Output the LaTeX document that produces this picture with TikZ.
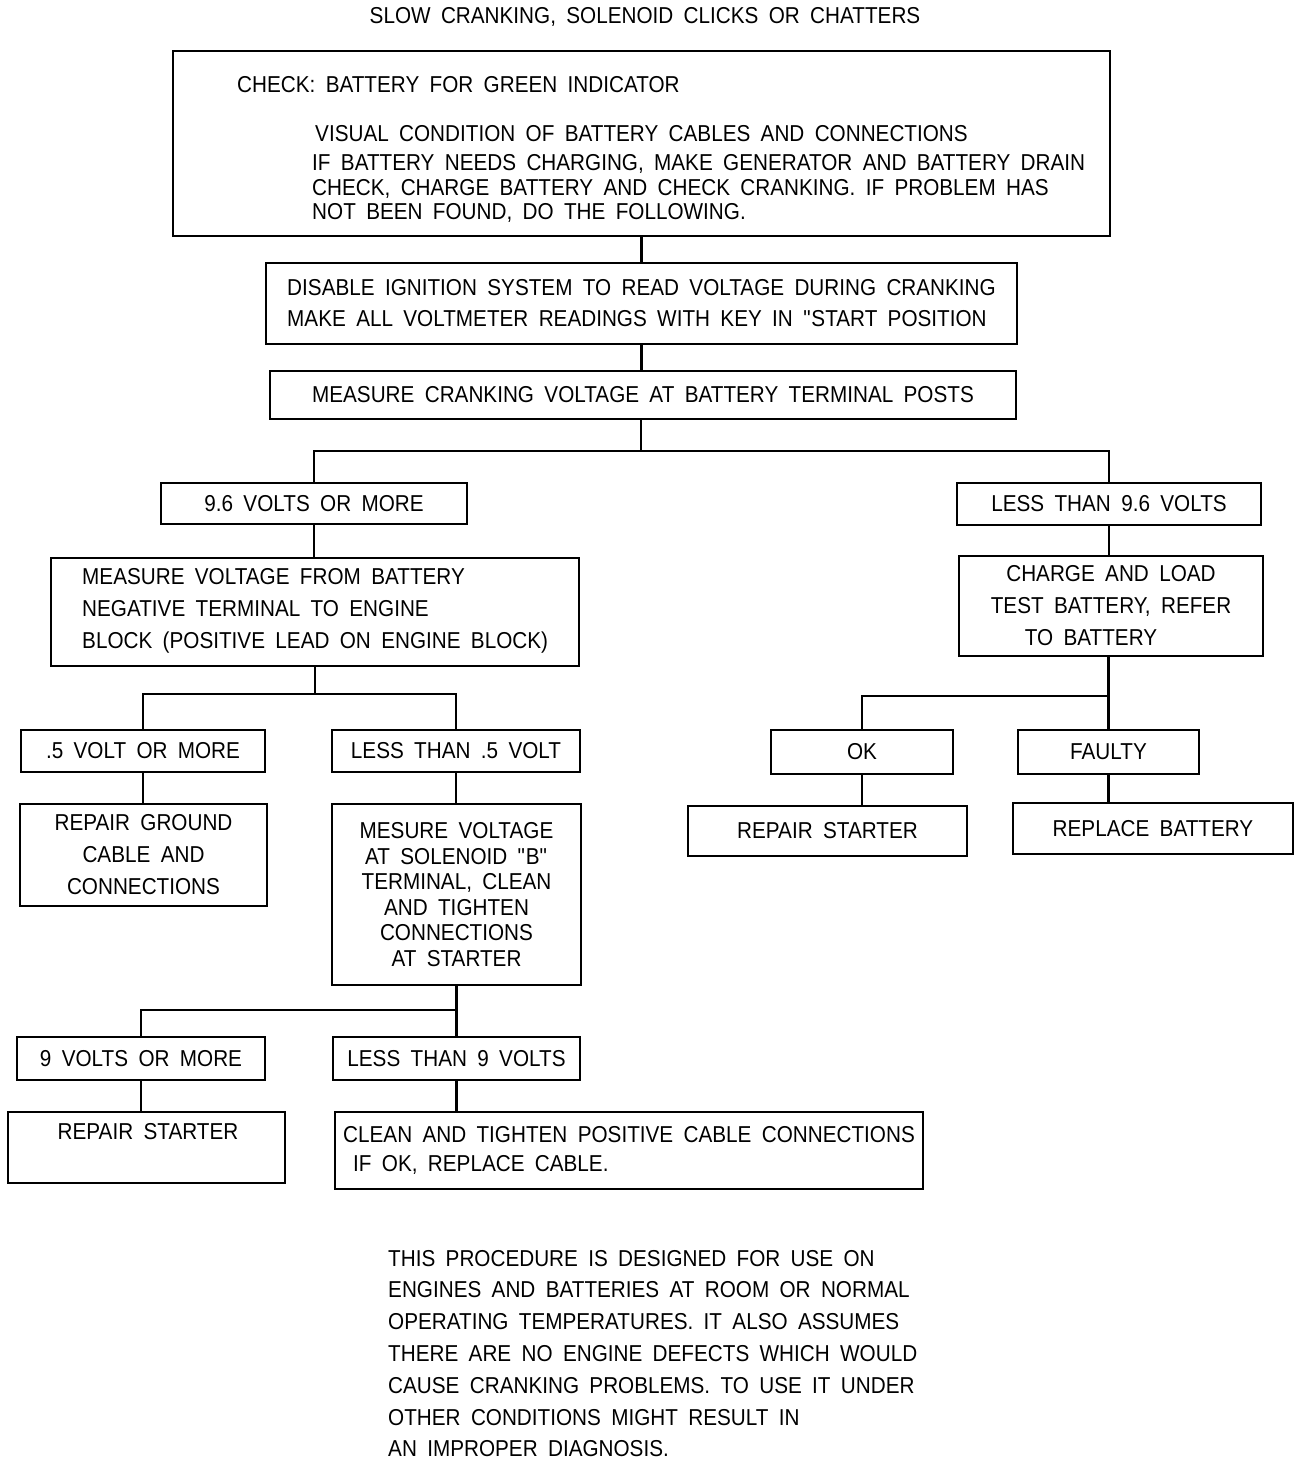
\documentclass[tikz,border=0pt]{standalone}
\usepackage{fontspec}
\setmainfont[FakeStretch=0.9,WordSpace=1.8]{Liberation Sans}

\begin{document}
\begin{tikzpicture}[x=1pt, y=-1pt,
  font=\fontsize{23}{28}\selectfont,
  box/.style={draw, line width=2.5pt, inner sep=0pt, align=center},
  txt/.style={inner sep=0pt, anchor=west, text height=16.5pt, text depth=0pt},
  link/.style={line width=2.5pt}]
  \useasboundingbox (0,0) rectangle (1312,1464);
  % Title
  \node[txt, anchor=center] (title) at (645,15) {SLOW CRANKING, SOLENOID CLICKS OR CHATTERS};
  % Boxes
  \node[box, minimum width=937pt, minimum height=185pt] (check) at (641.5,143.5) {};
  \node[txt] (c1) at (237,84) {CHECK: BATTERY FOR GREEN INDICATOR};
  \node[txt] (c2) at (315,133) {VISUAL CONDITION OF BATTERY CABLES AND CONNECTIONS};
  \node[txt] (c3) at (312,162) {IF BATTERY NEEDS CHARGING, MAKE GENERATOR AND BATTERY DRAIN};
  \node[txt] (c4) at (312,187) {CHECK, CHARGE BATTERY AND CHECK CRANKING. IF PROBLEM HAS};
  \node[txt] (c5) at (312,211) {NOT BEEN FOUND, DO THE FOLLOWING.};
  \node[box, minimum width=751pt, minimum height=81pt, align=left, font=\fontsize{23}{31}\selectfont] (dis) at (641.5,303.5)
    {DISABLE IGNITION SYSTEM TO READ VOLTAGE DURING CRANKING\\MAKE ALL VOLTMETER READINGS WITH KEY IN \textquotedbl START POSITION};
  \node[box, minimum width=746pt, minimum height=48pt] (meas) at (643,395) {MEASURE CRANKING VOLTAGE AT BATTERY TERMINAL POSTS};
  \node[box, minimum width=306pt, minimum height=41pt] (hi) at (314,503.5) {9.6 VOLTS OR MORE};
  \node[box, minimum width=304pt, minimum height=42pt] (lo) at (1109,504) {LESS THAN 9.6 VOLTS};
  \node[box, minimum width=528pt, minimum height=108pt] (neg) at (315,612) {};
  \node[inner sep=0pt, anchor=west, align=left, font=\fontsize{23}{32}\selectfont] (negtxt) at (82,611)
    {MEASURE VOLTAGE FROM BATTERY\\NEGATIVE TERMINAL TO ENGINE\\BLOCK (POSITIVE LEAD ON ENGINE BLOCK)};
  \node[box, minimum width=244pt, minimum height=42pt] (halfhi) at (143,751) {.5 VOLT OR MORE};
  \node[box, minimum width=248pt, minimum height=42pt] (halflo) at (456,751) {LESS THAN .5 VOLT};
  \node[box, minimum width=247pt, minimum height=102pt, font=\fontsize{23}{32}\selectfont] (gnd) at (143.5,855)
    {REPAIR GROUND\\CABLE AND\\CONNECTIONS};
  \node[box, minimum width=249pt, minimum height=181pt, font=\fontsize{23}{25.6}\selectfont] (sol) at (456.5,894.5)
    {MESURE VOLTAGE\\AT SOLENOID \textquotedbl B\textquotedbl\\TERMINAL, CLEAN\\AND TIGHTEN\\CONNECTIONS\\AT STARTER};
  \node[box, minimum width=248pt, minimum height=43pt] (ninehi) at (141,1058.5) {9 VOLTS OR MORE};
  \node[box, minimum width=247pt, minimum height=43pt] (ninelo) at (456.5,1058.5) {LESS THAN 9 VOLTS};
  \node[box, minimum width=277pt, minimum height=71pt] (rst) at (146.5,1147.5) {};
  \node[txt, anchor=center] (rsttxt) at (148,1131) {REPAIR STARTER};
  \node[box, minimum width=588pt, minimum height=77pt, align=left, font=\fontsize{23}{29}\selectfont] (clean) at (629,1150.5)
    {CLEAN AND TIGHTEN POSITIVE CABLE CONNECTIONS\\\hspace*{10pt}IF OK, REPLACE CABLE.};
  \node[box, minimum width=304pt, minimum height=100pt, font=\fontsize{23}{32}\selectfont] (chg) at (1111,606)
    {CHARGE AND LOAD\\TEST BATTERY, REFER\\TO BATTERY\hspace*{40pt}};
  \node[box, minimum width=182pt, minimum height=44pt] (ok) at (862,752) {OK};
  \node[box, minimum width=181pt, minimum height=44pt] (faulty) at (1108.5,752) {FAULTY};
  \node[box, minimum width=279pt, minimum height=50pt] (rst2) at (827.5,831) {REPAIR STARTER};
  \node[box, minimum width=280pt, minimum height=51pt] (repl) at (1153,828.5) {REPLACE BATTERY};
  % Note
  \node[inner sep=0pt, anchor=west, align=left, font=\fontsize{23}{31.8}\selectfont] (note) at (388,1353.5)
    {THIS PROCEDURE IS DESIGNED FOR USE ON\\ENGINES AND BATTERIES AT ROOM OR NORMAL\\OPERATING TEMPERATURES. IT ALSO ASSUMES\\THERE ARE NO ENGINE DEFECTS WHICH WOULD\\CAUSE CRANKING PROBLEMS. TO USE IT UNDER\\OTHER CONDITIONS MIGHT RESULT IN\\AN IMPROPER DIAGNOSIS.};
  % Links
  \draw[link] (check.south) -- (dis.north);
  \draw[link] (dis.south) -- (dis.south |- meas.north);
  \coordinate (j1) at (641,451);
  \draw[link] (meas.south -| j1) -- (j1);
  \draw[link] (hi.north) |- (j1) -| (lo.north);
  \draw[link] (hi.south) -- (hi.south |- neg.north);
  \coordinate (j2) at (315,694);
  \draw[link] (neg.south -| j2) -- (j2);
  \draw[link] (halfhi.north) |- (j2) -| (halflo.north);
  \draw[link] (halfhi.south) -- (halfhi.south |- gnd.north);
  \draw[link] (halflo.south) -- (halflo.south |- sol.north);
  \coordinate (j3) at (456.5,1010);
  \draw[link] (sol.south -| j3) -- (j3);
  \draw[link] (ninehi.north) |- (j3) -| (ninelo.north);
  \draw[link] (ninehi.south) -- (ninehi.south |- rst.north);
  \draw[link] (ninelo.south) -- (ninelo.south |- clean.north);
  \draw[link] (lo.south) -- (lo.south |- chg.north);
  \coordinate (j4) at (1108.5,696);
  \draw[link] (chg.south -| j4) -- (j4);
  \draw[link] (ok.north) |- (j4) -| (faulty.north);
  \draw[link] (ok.south) -- (ok.south |- rst2.north);
  \draw[link] (faulty.south) -- (faulty.south |- repl.north);
\end{tikzpicture}
\end{document}
